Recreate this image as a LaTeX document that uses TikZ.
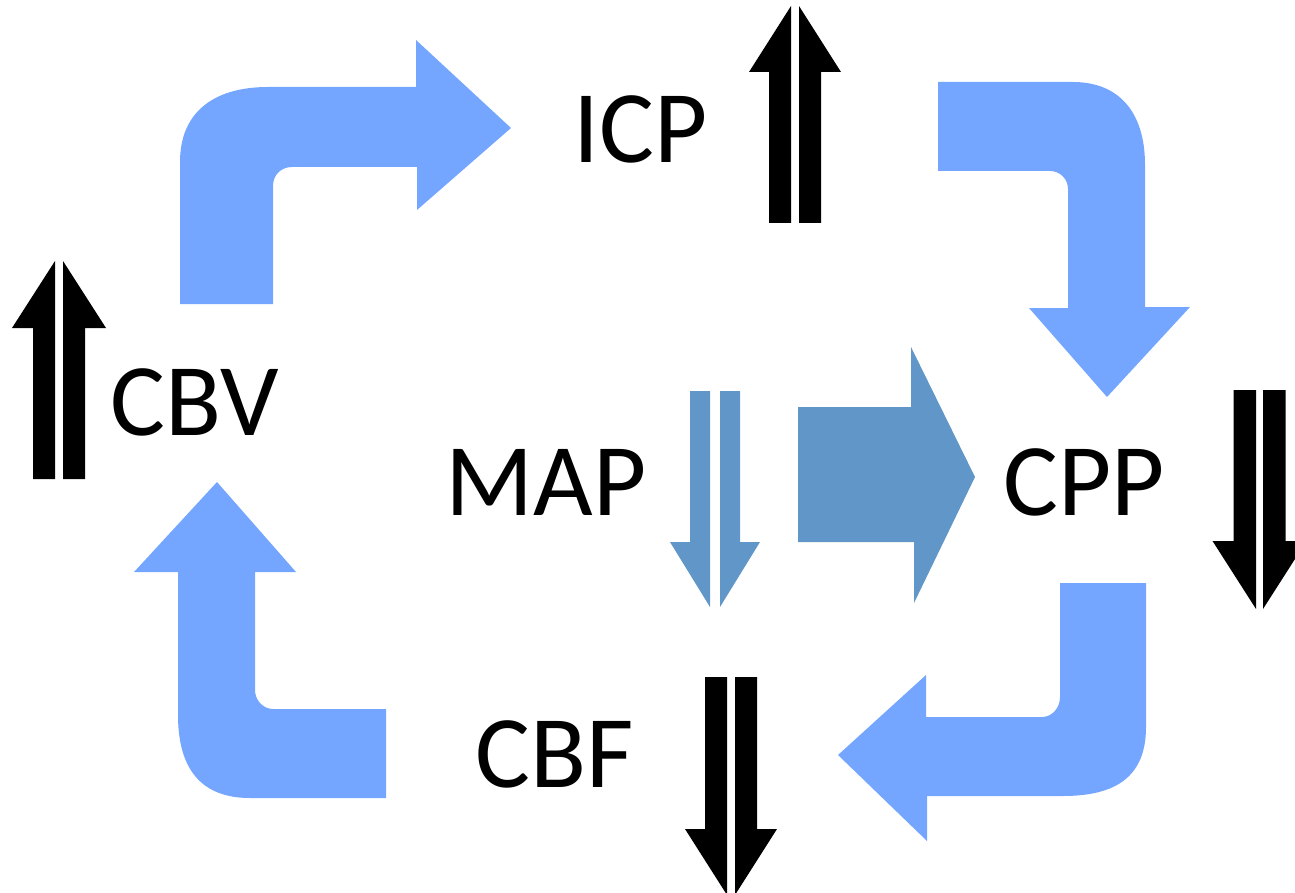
\documentclass[tikz,border=0pt]{standalone}
\usepackage{fontspec}
\setmainfont{Carlito}
\definecolor{bentblue}{RGB}{117,166,255}
\definecolor{mapblue}{RGB}{96,150,200}
\tikzset{
  lbl/.style={anchor=base, inner sep=0pt, font=\fontsize{103}{110}\selectfont},
  bent/.style={fill=bentblue, draw=none},
  blk/.style={fill=black, draw=none},
  mapfill/.style={fill=mapblue, draw=none}
}
% up pair: #1 style, #2 cx, #3 top, #4 inner, #5 shaft, #6 head, #7 headlen, #8 total
\newcommand{\uppairshape}[8]{%
  \begin{scope}[shift={(#2,#3)}]
    \fill[#1] (-#4,0) -- (-#6,#7) -- (-#5,#7) -- (-#5,#8) -- (-#4,#8) -- cycle;
    \fill[#1] (#4,0) -- (#6,#7) -- (#5,#7) -- (#5,#8) -- (#4,#8) -- cycle;
  \end{scope}}
\newcommand{\dnpairshape}[8]{%
  \begin{scope}[shift={(#2,#3)}]
    \fill[#1] (-#5,0) -- (-#5,#8-#7) -- (-#6,#8-#7) -- (-#4,#8) -- (-#4,0) -- cycle;
    \fill[#1] (#5,0) -- (#5,#8-#7) -- (#6,#8-#7) -- (#4,#8) -- (#4,0) -- cycle;
  \end{scope}}
\begin{document}
\begin{tikzpicture}[x=1pt,y=-1pt]
\useasboundingbox (0,0) rectangle (1295,893);
\clip (0,0) rectangle (1295,893);

% labels
\node[lbl] (icp) at (641,163) {ICP};
\node[lbl] (cbv) at (195,435) {CBV};
\node[lbl] (map) at (546,515) {MAP};
\node[lbl] (cpp) at (1084,515) {CPP};
\node[lbl] (cbf) at (555,787) {CBF};

% bent arrows
\path[bent] (180,304) -- (180,162) .. controls (180,112) and (214,87) .. (268,87)
  -- (416,87) -- (416,40) -- (511,128) -- (417,210) -- (417,167) -- (292,167)
  .. controls (281,167) and (273,175) .. (273,186) -- (273,304) -- cycle;

\path[bent] (938,82) -- (1073,82) .. controls (1117,82) and (1145,110) .. (1145,165)
  -- (1145,307) -- (1190,307) -- (1107,397) -- (1029,308) -- (1068,308) -- (1068,189)
  .. controls (1068,179) and (1060,171) .. (1050,171) -- (938,171) -- cycle;

\path[bent] (1060,583) -- (1146,583) -- (1146,727) .. controls (1146,775) and (1118,796) .. (1063,796)
  -- (927,796) -- (927,841) -- (838,755) -- (926,675) -- (926,717) -- (1042,717)
  .. controls (1052,717) and (1060,708) .. (1060,697) -- cycle;

\path[bent] (217,482) -- (296,572) -- (255,572) -- (255,690)
  .. controls (255,700) and (263,709) .. (273,709) -- (386,709) -- (386,798) -- (250,798)
  .. controls (202,798) and (178,770) .. (178,715) -- (178,572) -- (134,572) -- cycle;

% MAP -> CPP block arrow
\path[mapfill] (798,407) -- (911,407) -- (911,347) -- (975,477) -- (914,603) -- (914,542) -- (798,542) -- cycle;

% black double arrows
\uppairshape{blk}{795}{6}{4}{26}{46}{66}{217}
\uppairshape{blk}{59}{261}{4}{26}{47}{67}{218}
\dnpairshape{blk}{1259.5}{390}{3.5}{26}{47}{68}{219}
\dnpairshape{blk}{731}{677}{4}{26}{46}{66}{218}

% MAP blue double arrow
\dnpairshape{mapfill}{715}{391}{5}{25}{45}{65}{216}
\end{tikzpicture}
\end{document}
